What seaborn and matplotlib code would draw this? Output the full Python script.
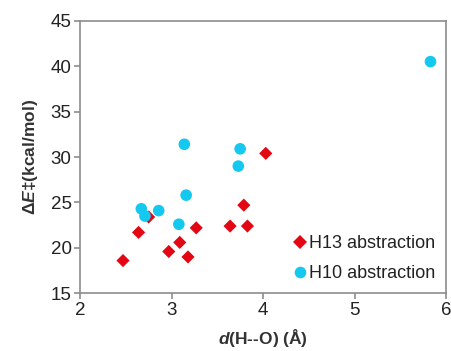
import matplotlib
matplotlib.use("Agg")
import matplotlib.pyplot as plt
import pandas as pd
import seaborn as sns

# H13 abstraction: d(H--O) in Angstrom, barrier in kcal/mol
h13_d = [2.47, 2.64, 2.75, 2.97, 3.09, 3.18, 3.27, 3.64, 3.83, 3.79, 4.03]
h13_e = [18.6, 21.7, 23.4, 19.6, 20.6, 19.0, 22.2, 22.4, 22.4, 24.7, 30.4]

# H10 abstraction
h10_d = [3.14, 3.75, 3.73, 3.16, 2.67, 2.71, 2.86, 3.08, 5.83]
h10_e = [31.4, 30.9, 29.0, 25.8, 24.3, 23.5, 24.1, 22.6, 40.5]

groups = ["H13 abstraction", "H10 abstraction"]
colors = {"H13 abstraction": "#e30613", "H10 abstraction": "#14c8f0"}
markers = {"H13 abstraction": "D", "H10 abstraction": "o"}
sizes = {"H13 abstraction": 45, "H10 abstraction": 70}

df = pd.DataFrame({
    "d": h13_d + h10_d,
    "E": h13_e + h10_e,
    "group": [groups[0]] * len(h13_d) + [groups[1]] * len(h10_d),
})

sns.set_style("white")
plt.rcParams["font.family"] = ["Liberation Sans", "DejaVu Sans"]
plt.rcParams.update({
    "mathtext.fontset": "custom",
    "mathtext.rm": "Liberation Sans:bold",
    "mathtext.it": "Liberation Sans:italic:bold",
    "mathtext.bf": "Liberation Sans:bold",
})
axis_gray = "#8c8c8c"

fig = plt.figure(figsize=(4.51, 3.51), dpi=100)
ax = fig.add_axes([0.1774, 0.1644, 0.8116, 0.7766])

sns.scatterplot(
    data=df, x="d", y="E", hue="group", style="group",
    palette=colors, markers=markers, hue_order=groups, style_order=groups,
    s=60, linewidth=0, ax=ax,
)
# diamonds are drawn a bit smaller than circles
ax.collections[0].set_sizes([sizes[g] for g in df["group"]])

ax.set_xlim(2, 6)
ax.set_ylim(15, 45)
ax.set_xticks([2, 3, 4, 5, 6])
ax.set_yticks(range(15, 50, 5))

for sp in ax.spines.values():
    sp.set_color(axis_gray)
    sp.set_linewidth(1.2)
ax.tick_params(bottom=True, left=True, direction="out", length=4, width=1.2,
               color=axis_gray, labelsize=13.5, labelcolor="#222222", pad=2)

ax.set_xlabel(r"$\mathit{d}$(H--O) (Å)", fontsize=12.5, fontweight="bold",
              color="#333333", labelpad=6)
ax.set_ylabel(r"Δ$\mathit{E}$‡(kcal/mol)", fontsize=12.5,
              fontweight="bold", color="#333333", labelpad=8)

leg = ax.legend(loc="lower right", frameon=False, fontsize=13,
                handletextpad=-0.1, labelspacing=0.75, borderaxespad=0.2,
                markerscale=1.0, handlelength=1.2)
for h, g in zip(leg.legend_handles, groups):
    h.set_markersize(sizes[g] ** 0.5)
for t in leg.get_texts():
    t.set_color("#222222")

fig.savefig("out.png", dpi=100)
